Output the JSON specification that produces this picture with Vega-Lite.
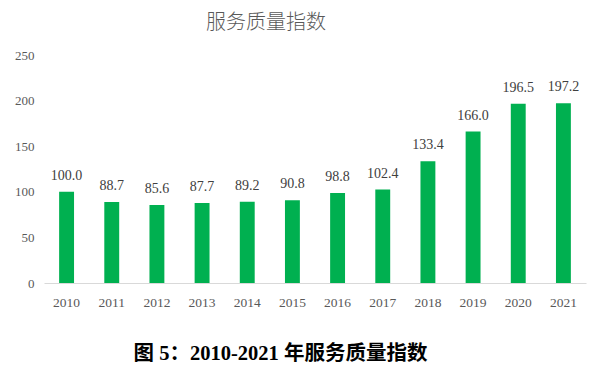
{
  "$schema": "https://vega.github.io/schema/vega-lite/v6.json",
  "autosize": "none",
  "width": 542,
  "height": 228,
  "padding": {"left": 44, "top": 55, "right": 6, "bottom": 95},
  "background": "white",
  "title": {
    "text": "服务质量指数",
    "font": "Noto Sans CJK SC",
    "fontSize": 20,
    "fontWeight": 300,
    "color": "#595959",
    "anchor": "middle",
    "dx": -49,
    "offset": 16
  },
  "data": {
    "values": [
      {"year": "2010", "value": 100.0},
      {"year": "2011", "value": 88.7},
      {"year": "2012", "value": 85.6},
      {"year": "2013", "value": 87.7},
      {"year": "2014", "value": 89.2},
      {"year": "2015", "value": 90.8},
      {"year": "2016", "value": 98.8},
      {"year": "2017", "value": 102.4},
      {"year": "2018", "value": 133.4},
      {"year": "2019", "value": 166.0},
      {"year": "2020", "value": 196.5},
      {"year": "2021", "value": 197.2}
    ]
  },
  "encoding": {
    "x": {
      "field": "year",
      "type": "ordinal",
      "scale": {"paddingInner": 0.67, "paddingOuter": 0.335},
      "axis": {
        "title": "图 5：2010-2021 年服务质量指数",
        "titleFont": "Liberation Serif, Noto Sans CJK SC",
        "titleFontSize": 20.5,
        "titleFontWeight": "bold",
        "titleColor": "#000000",
        "titleX": 236,
        "titleY": 70,
        "titleAlign": "center",
        "titleBaseline": "middle",
        "labelAngle": 0,
        "labelFont": "Liberation Serif",
        "labelFontSize": 13.5,
        "labelColor": "#595959",
        "labelPadding": 12,
        "ticks": false,
        "domainColor": "#d9d9d9",
        "domainWidth": 1
      }
    },
    "y": {
      "field": "value",
      "type": "quantitative",
      "scale": {"domain": [0, 250]},
      "axis": {
        "title": null,
        "values": [0, 50, 100, 150, 200, 250],
        "grid": false,
        "domain": false,
        "ticks": false,
        "labelFont": "Liberation Serif",
        "labelFontSize": 13,
        "labelColor": "#595959",
        "labelPadding": 10
      }
    }
  },
  "layer": [
    {"mark": {"type": "bar", "color": "#00B050"}},
    {
      "mark": {
        "type": "text",
        "baseline": "bottom",
        "dy": -9,
        "font": "Liberation Serif",
        "fontSize": 14,
        "color": "#404040"
      },
      "encoding": {
        "text": {"field": "value", "type": "quantitative", "format": ".1f"}
      }
    }
  ],
  "config": {"view": {"stroke": null}}
}
